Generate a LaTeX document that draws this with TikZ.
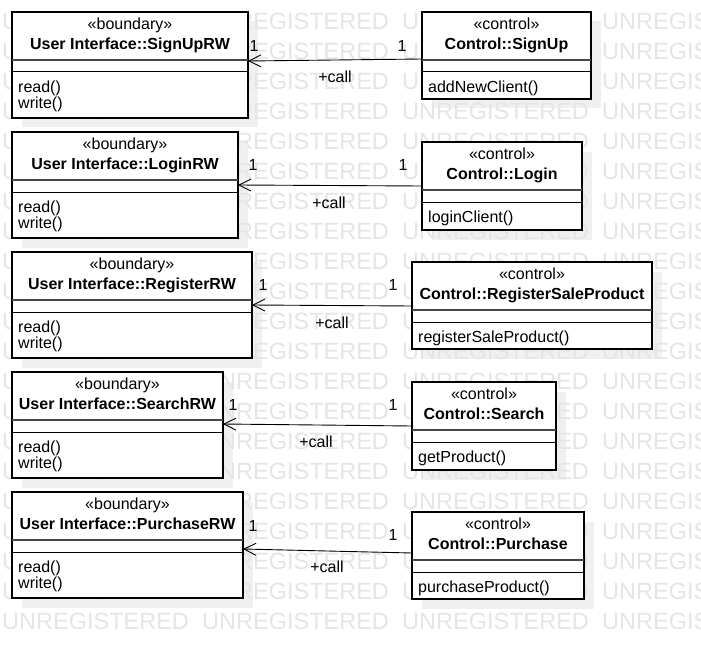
\documentclass[tikz,border=0pt]{standalone}
\usepackage{fontspec}
\setmainfont{Liberation Sans}
\usetikzlibrary{arrows.meta,calc}
\definecolor{wmc}{RGB}{229,229,229}
\definecolor{shadowc}{RGB}{240,240,240}
\definecolor{divc}{RGB}{70,70,70}
\tikzset{
  classbox/.style={draw=black, fill=white, line width=1.1pt, rectangle, inner sep=0pt, outer sep=0pt},
  divthick/.style={draw=divc, line width=2pt},
  divthin/.style={draw=black, line width=1pt},
  stereo/.style={inner sep=0pt, font=\fontsize{16}{19}\selectfont},
  ctitle/.style={inner sep=0pt, font=\fontsize{16}{19}\selectfont\bfseries},
  meth/.style={inner sep=0pt, font=\fontsize{16}{19}\selectfont},
  lbl/.style={inner sep=0pt, font=\fontsize{16}{19}\selectfont},
  wmark/.style={inner sep=0pt, anchor=west, text=wmc, font=\fontsize{23.5}{24}\selectfont},
  assoc/.style={draw=black, line width=0.9pt, -{Straight Barb[length=12pt,width=12pt]}}
}
\newcommand\umlclass[8]{%
  \node[classbox, minimum width=#4pt, minimum height=#5pt, anchor=north west] (#1) at (#2,#3) {};
  \draw[divthick] ([shift={(0,48)}]#1.north west) -- ([shift={(0,48)}]#1.north east);
  \draw[divthin] ([shift={(0,60)}]#1.north west) -- ([shift={(0,60)}]#1.north east);
  \node[stereo, anchor=base] (#1-st) at ([shift={(0,17.5)}]#1.north) {«#6»};
  \node[ctitle, anchor=base] (#1-ti) at ([shift={(0,37.5)}]#1.north) {#7};
  \foreach \m [count=\i] in {#8} {
    \node[meth, anchor=base west] (#1-m\i) at ([shift={(6,63.5+16.6*\i)}]#1.north west) {\m};
  }%
}
\begin{document}
\begin{tikzpicture}[x=1pt,y=-1pt]
\useasboundingbox (0,0) rectangle (701,650);
\clip (0,0) rectangle (701,650);
\fill[white] (0,0) rectangle (701,650);
% shadows
\foreach \x/\y/\w/\h in {12/12/236/106, 422/12/169/87, 12/132/226/106, 422/142/160/88,
  12/252/240/106, 412/262/240/87, 12/372/211/106, 412/382/144/88, 12/492/231/106, 412/512/172/87}
  \fill[shadowc] (\x+9.5,\y+9.5) rectangle ++(\w,\h);
% watermark
\foreach \r in {0,...,20} {
  \foreach \c in {0,...,3} {
    \node[wmark] (wm-\r-\c) at (2+200*\c, 21+30*\r) {UNREGISTERED};
  }
}
% classes
\umlclass{b1}{12}{12}{236}{106}{boundary}{User Interface::SignUpRW}{read(),write()}
\umlclass{c1}{422}{12}{169}{87}{control}{Control::SignUp}{addNewClient()}
\umlclass{b2}{12}{132}{226}{106}{boundary}{User Interface::LoginRW}{read(),write()}
\umlclass{c2}{422}{142}{160}{88}{control}{Control::Login}{loginClient()}
\umlclass{b3}{12}{252}{240}{106}{boundary}{User Interface::RegisterRW}{read(),write()}
\umlclass{c3}{412}{262}{240}{87}{control}{Control::RegisterSaleProduct}{registerSaleProduct()}
\umlclass{b4}{12}{372}{211}{106}{boundary}{User Interface::SearchRW}{read(),write()}
\umlclass{c4}{412}{382}{144}{88}{control}{Control::Search}{getProduct()}
\umlclass{b5}{12}{492}{231}{106}{boundary}{User Interface::PurchaseRW}{read(),write()}
\umlclass{c5}{412}{512}{172}{87}{control}{Control::Purchase}{purchaseProduct()}
% associations
\draw[assoc] ([shift={(0,47)}]c1.north west) -- ([shift={(0,49)}]b1.north east);
\draw[assoc] ([shift={(0,44)}]c2.north west) -- ([shift={(0,53)}]b2.north east);
\draw[assoc] ([shift={(0,44)}]c3.north west) -- ([shift={(0,53)}]b3.north east);
\draw[assoc] ([shift={(0,44)}]c4.north west) -- ([shift={(0,52)}]b4.north east);
\draw[assoc] ([shift={(0,41)}]c5.north west) -- ([shift={(0,57)}]b5.north east);
% multiplicities and roles
\node[lbl] (l1b) at (254,46) {1};
\node[lbl] (l1c) at (402,46) {1};
\node[lbl] (r1) at (335,77) {+call};
\node[lbl] (l2b) at (253,165) {1};
\node[lbl] (l2c) at (403,165) {1};
\node[lbl] (r2) at (329,203) {+call};
\node[lbl] (l3b) at (263,285) {1};
\node[lbl] (l3c) at (393,285) {1};
\node[lbl] (r3) at (332,323) {+call};
\node[lbl] (l4b) at (233,405) {1};
\node[lbl] (l4c) at (393,405) {1};
\node[lbl] (r4) at (316,442) {+call};
\node[lbl] (l5b) at (253,526) {1};
\node[lbl] (l5c) at (393,535) {1};
\node[lbl] (r5) at (327,567) {+call};
\end{tikzpicture}
\end{document}
